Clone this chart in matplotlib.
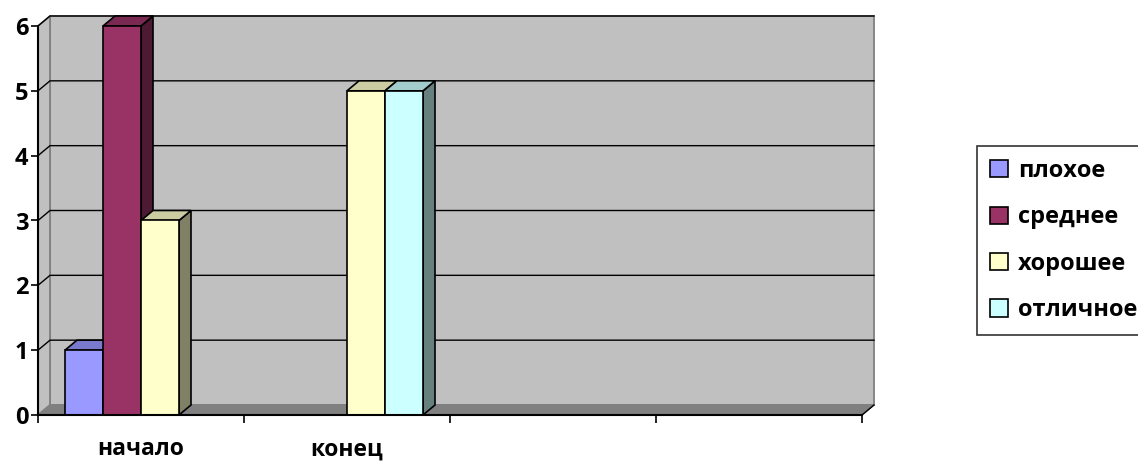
import matplotlib
matplotlib.use('Agg')
import matplotlib.pyplot as plt
from matplotlib.patches import Polygon, Patch

plt.rcParams['font.family'] = ['Open Sans', 'DejaVu Sans']
plt.rcParams['font.weight'] = 'bold'

# Данные диаграммы
categories = ['начало', 'конец', '', '']
series = ['плохое', 'среднее', 'хорошее', 'отличное']
values = {
    'плохое':   [1, 0, 0, 0],
    'среднее':  [6, 0, 0, 0],
    'хорошее':  [3, 5, 0, 0],
    'отличное': [0, 5, 0, 0],
}
y_ticks = [0, 1, 2, 3, 4, 5, 6]

# Цвета: лицевая грань, верх, бок
colors = {
    'плохое':   ('#9999FF', '#7A7ACC', '#4D4D80'),
    'среднее':  ('#993366', '#7A2952', '#4D1A33'),
    'хорошее':  ('#FFFFCC', '#CCCCA3', '#808066'),
    'отличное': ('#CCFFFF', '#A3CCCC', '#668080'),
}

W, H = 1138, 461
fig = plt.figure(figsize=(W / 100, H / 100), dpi=100)
ax = fig.add_axes([38 / W, 1 - 415 / H, 824 / W, 389 / H])

n_cat = len(categories)
ymax = max(y_ticks)
ax.set_xlim(0, n_cat)
ax.set_ylim(0, ymax)

# глубина "3D" в единицах данных (12 px вправо, 10 px вверх)
DX = 12 / 824 * n_cat
DY = 10 / 389 * ymax

# задняя стенка, боковая стенка, пол
ax.add_patch(Polygon([(DX, DY), (n_cat + DX, DY), (n_cat + DX, ymax + DY), (DX, ymax + DY)],
                     closed=True, facecolor='#C0C0C0', edgecolor='#808080', lw=1.3,
                     clip_on=False, zorder=0))
ax.add_patch(Polygon([(0, 0), (DX, DY), (DX, ymax + DY), (0, ymax)],
                     closed=True, facecolor='#C0C0C0', edgecolor='#808080', lw=1.3,
                     clip_on=False, zorder=0))
ax.add_patch(Polygon([(0, 0), (n_cat, 0), (n_cat + DX, DY), (DX, DY)],
                     closed=True, facecolor='#808080', edgecolor='#808080', lw=1,
                     clip_on=False, zorder=0.5))

# линии сетки на стенках
for t in y_ticks[1:]:
    ax.plot([0, DX, n_cat + DX], [t, t + DY, t + DY], color='black', lw=1,
            clip_on=False, zorder=0.6)

# столбцы
bw = 38 / 824 * n_cat
off = (1 - bw * len(series)) / 2
for ci in range(n_cat):
    for si, s in enumerate(series):
        v = values[s][ci]
        if v == 0:
            continue
        front, top, side = colors[s]
        x0 = ci + off + si * bw
        x1 = x0 + bw
        z = 2 + ci * 0.1 + si * 0.01
        ax.add_patch(Polygon([(x1, 0), (x1 + DX, DY), (x1 + DX, v + DY), (x1, v)],
                             closed=True, facecolor=side, edgecolor='black', lw=1.2,
                             clip_on=False, zorder=z))
        ax.add_patch(Polygon([(x0, v), (x1, v), (x1 + DX, v + DY), (x0 + DX, v + DY)],
                             closed=True, facecolor=top, edgecolor='black', lw=1.2,
                             clip_on=False, zorder=z))
        ax.add_patch(Polygon([(x0, 0), (x1, 0), (x1, v), (x0, v)],
                             closed=True, facecolor=front, edgecolor='black', lw=1.2,
                             clip_on=False, zorder=z + 0.005))

# нижняя правая диагональ
ax.plot([n_cat, n_cat + DX], [0, DY], color='black', lw=1, clip_on=False, zorder=1)

ax.set_facecolor('none')
for sp in ['top', 'right']:
    ax.spines[sp].set_visible(False)
for sp in ['left', 'bottom']:
    ax.spines[sp].set_linewidth(1.5)
    ax.spines[sp].set_zorder(5)

ax.set_yticks(y_ticks)
ax.set_yticklabels([str(t) for t in y_ticks], fontsize=17, fontweight='bold')
ax.set_xticks(range(n_cat + 1))
ax.set_xticklabels([])
ax.tick_params(axis='y', length=5, width=1.2, pad=2)
ax.tick_params(axis='x', length=6, width=1.2, direction='out')

# подписи категорий
for ci, c in enumerate(categories):
    ax.text(ci + 0.5, -0.62, c, ha='center', va='baseline', fontsize=16.5,
            fontweight='bold')

handles = [Patch(facecolor=colors[s][0], edgecolor='black', lw=1.2) for s in series]
leg = fig.legend(handles, series, loc='upper left', bbox_to_anchor=(977 / W, 1 - 146 / H),
                 fontsize=17, frameon=True, fancybox=False, edgecolor='black',
                 handlelength=0.75, handleheight=0.75, handletextpad=0.45,
                 labelspacing=0.95, borderpad=0.55, borderaxespad=0)
leg.get_frame().set_linewidth(1.2)

fig.savefig('out.png', dpi=100)
